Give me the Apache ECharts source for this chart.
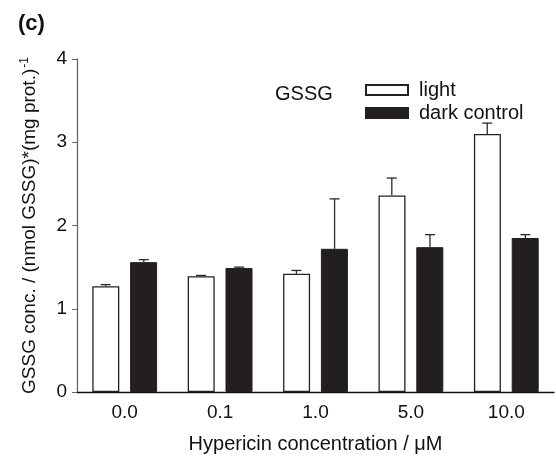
<!DOCTYPE html>
<html>
<head>
<meta charset="utf-8">
<script src="https://cdn.jsdelivr.net/npm/echarts@6/dist/echarts.min.js"></script>
<style>
  html, body { margin: 0; padding: 0; background: #fff; }
  #main { width: 556px; height: 456px; }
</style>
</head>
<body>
<div id="main"></div>
<script>
// data
var categories = ['0.0', '0.1', '1.0', '5.0', '10.0'];
var lightMean = [1.27, 1.39, 1.42, 2.36, 3.10];
var lightUpper = [1.29, 1.40, 1.46, 2.57, 3.23];
var darkMean = [1.56, 1.49, 1.72, 1.74, 1.85];
var darkUpper = [1.59, 1.50, 2.32, 1.89, 1.89];
var yTicks = [0, 1, 2, 3, 4];

var chart = echarts.init(document.getElementById('main'), null, { renderer: 'canvas' });
var FONT = 'Liberation Sans, Arial, Helvetica, sans-serif';

function errData(mean, upper) {
  return mean.map(function (m, i) { return [i, m, upper[i]]; });
}

// upper-only error bar with cap, shifted to the bar's slot
function errRenderer(shift) {
  return function (params, api) {
    var band = api.size([1, 0])[0];
    var top = api.coord([api.value(0), api.value(2)]);
    var base = api.coord([api.value(0), api.value(1)]);
    var x = top[0] + shift * band;
    var style = { stroke: '#2a2a2a', lineWidth: 1.3 };
    return {
      type: 'group',
      children: [
        { type: 'line', shape: { x1: x, y1: base[1], x2: x, y2: top[1] }, style: style },
        { type: 'line', shape: { x1: x - 5, y1: top[1], x2: x + 5, y2: top[1] }, style: style }
      ]
    };
  };
}

var option = {
  animation: false,
  textStyle: { fontFamily: FONT },
  title: {
    text: '(c)', left: 13, top: 8,
    textStyle: { fontFamily: FONT, fontSize: 22, fontWeight: 'bold', color: '#111' }
  },
  legend: {
    data: ['light', 'dark control'],
    orient: 'vertical', left: 360, top: 75,
    itemWidth: 42, itemHeight: 10, itemGap: 3,
    icon: 'rect',
    textStyle: { fontFamily: FONT, fontSize: 20, color: '#111', padding: [0, 0, 0, 6] }
  },
  graphic: [{
    type: 'text', x: 275, y: 94,
    style: { text: 'GSSG', fontFamily: FONT, fontSize: 20, fill: '#111', verticalAlign: 'middle' }
  }],
  grid: { left: 77, right: 2, top: 59, bottom: 64, outerBoundsMode: 'none' },
  xAxis: {
    type: 'category',
    data: categories,
    name: 'Hypericin concentration / \u03bcM',
    nameLocation: 'middle', nameGap: 42,
    nameTextStyle: { fontFamily: FONT, fontSize: 20, color: '#111' },
    axisLine: { lineStyle: { color: '#111', width: 1.3 } },
    axisTick: { alignWithLabel: true, length: 5, lineStyle: { color: '#111' } },
    axisLabel: { fontFamily: FONT, fontSize: 19, color: '#111', margin: 11 }
  },
  yAxis: {
    type: 'value', min: 0, max: 4, interval: 1,
    name: 'GSSG conc. / (nmol GSSG)*(mg prot.){sup|-1}',
    nameLocation: 'middle', nameGap: 36, nameRotate: 90,
    nameTextStyle: {
      fontFamily: FONT, fontSize: 19, color: '#111',
      rich: { sup: { fontFamily: FONT, fontSize: 12, color: '#111', verticalAlign: 'top', padding: [0, 0, 10, 1] } }
    },
    splitLine: { show: false },
    axisLine: { show: true, lineStyle: { color: '#666', width: 1.3 } },
    axisTick: { show: true, length: 5, lineStyle: { color: '#666' } },
    axisLabel: {
      fontFamily: FONT, fontSize: 19, color: '#111', margin: 10,
      formatter: function (v) { return yTicks.indexOf(v) >= 0 ? String(v) : ''; }
    }
  },
  series: [
    {
      name: 'light', type: 'bar', data: lightMean,
      barWidth: 27, barGap: '40%',
      itemStyle: { color: '#ffffff', borderColor: '#222', borderWidth: 1.3 }
    },
    {
      name: 'dark control', type: 'bar', data: darkMean,
      barWidth: 27,
      itemStyle: { color: '#231f20', borderColor: '#231f20', borderWidth: 1 }
    },
    {
      type: 'custom', name: 'light err', data: errData(lightMean, lightUpper),
      renderItem: errRenderer(-0.2), z: 5, silent: true
    },
    {
      type: 'custom', name: 'dark err', data: errData(darkMean, darkUpper),
      renderItem: errRenderer(0.2), z: 5, silent: true
    }
  ]
};

chart.setOption(option);
</script>
</body>
</html>
